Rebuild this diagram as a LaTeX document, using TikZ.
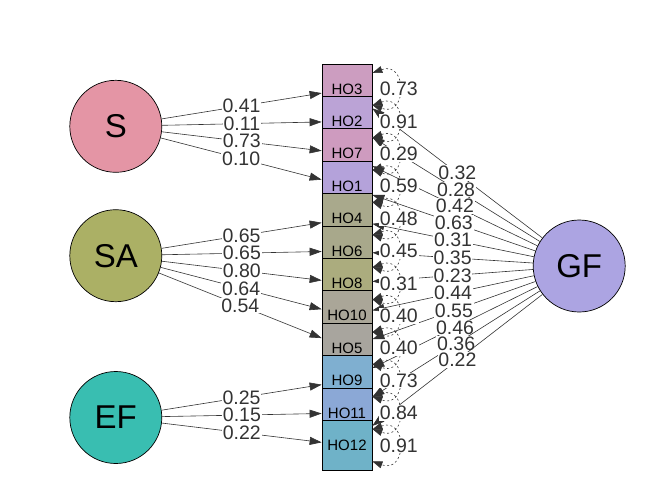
\documentclass[tikz,border=0pt]{standalone}
\usepackage{fontspec}
\setmainfont{Liberation Sans}
\usetikzlibrary{arrows.meta}
\definecolor{edgecol}{HTML}{333333}
\definecolor{scol}{HTML}{E495A5}
\definecolor{sacol}{HTML}{ABB065}
\definecolor{efcol}{HTML}{39BEB1}
\definecolor{gfcol}{HTML}{ACA4E2}
\definecolor{hoa}{HTML}{CC9DC0}
\definecolor{hob}{HTML}{BBA3D6}
\definecolor{hoc}{HTML}{CE9BBF}
\definecolor{hod}{HTML}{B4A2DA}
\definecolor{hoe}{HTML}{A9A98C}
\definecolor{hof}{HTML}{A8A88B}
\definecolor{hog}{HTML}{ABAC7E}
\definecolor{hoh}{HTML}{AAA698}
\definecolor{hoi}{HTML}{A8A59E}
\definecolor{hoj}{HTML}{7FAFD0}
\definecolor{hok}{HTML}{8BA8D6}
\definecolor{hol}{HTML}{6FB2C8}
\tikzset{
  latent/.style={circle, draw=black, line width=0.7pt, minimum size=92pt, inner sep=0pt,
    font=\fontsize{33}{36}\selectfont},
  manifest/.style={rectangle, draw=black, line width=0.7pt, minimum width=50pt,
    minimum height=50pt, inner sep=0pt, font=\fontsize{15}{18}\selectfont},
  loading/.style={draw=edgecol, line width=0.6pt, -{Triangle[length=12pt,width=8pt]}},
  resid/.style={draw=edgecol, line width=0.6pt, dash pattern=on 2pt off 2.5pt,
    {Triangle[length=10pt,width=7pt]}-{Triangle[length=10pt,width=7pt]}},
  elab/.style={fill=white, inner sep=0.8pt, text=edgecol, font=\fontsize{19.5}{22}\selectfont}
}
\begin{document}
\begin{tikzpicture}[x=1pt,y=-1pt]
  \useasboundingbox (0,0) rectangle (672,480);
  \draw
    (347,89.0) node[manifest, fill=hoa] (HO3){HO3}
    (347,121.4) node[manifest, fill=hob] (HO2){HO2}
    (347,153.8) node[manifest, fill=hoc] (HO7){HO7}
    (347,186.2) node[manifest, fill=hod] (HO1){HO1}
    (347,218.6) node[manifest, fill=hoe] (HO4){HO4}
    (347,251.0) node[manifest, fill=hof] (HO6){HO6}
    (347,283.4) node[manifest, fill=hog] (HO8){HO8}
    (347,315.8) node[manifest, fill=hoh] (HO10){HO10}
    (347,348.2) node[manifest, fill=hoi] (HO5){HO5}
    (347,380.6) node[manifest, fill=hoj] (HO9){HO9}
    (347,413.0) node[manifest, fill=hok] (HO11){HO11}
    (347,445.4) node[manifest, fill=hol] (HO12){HO12};
  \draw
    (115.8,126.3) node[latent, fill=scol] (S){S}
    (115.8,255.7) node[latent, fill=sacol] (SA){SA}
    (115.8,417.5) node[latent, fill=efcol] (EF){EF}
    (579.2,266.0) node[latent, fill=gfcol] (GF){GF};
  % group factors
  \begin{scope}[every node/.style={elab}]
    \draw[loading] (S) to node{0.41} (HO3);
    \draw[loading] (S) to node{0.11} (HO2);
    \draw[loading] (S) to node{0.73} (HO7);
    \draw[loading] (S) to node{0.10} (HO1);
    \draw[loading] (SA) to node{0.65} (HO4);
    \draw[loading] (SA) to node{0.65} (HO6);
    \draw[loading] (SA) to node{0.80} (HO8);
    \draw[loading] (SA) to node{0.64} (HO10);
    \draw[loading] (SA) to node{0.54} (HO5);
    \draw[loading] (EF) to node{0.25} (HO9);
    \draw[loading] (EF) to node{0.15} (HO11);
    \draw[loading] (EF) to node{0.22} (HO12);
  \end{scope}
  % general factor
  \begin{scope}[every node/.style={elab}]
    \draw[loading] (GF) to node{0.32} (HO3);
    \draw[loading] (GF) to node{0.28} (HO2);
    \draw[loading] (GF) to node{0.42} (HO7);
    \draw[loading] (GF) to node{0.63} (HO1);
    \draw[loading] (GF) to node{0.31} (HO4);
    \draw[loading] (GF) to node{0.35} (HO6);
    \draw[loading] (GF) to node{0.23} (HO8);
    \draw[loading] (GF) to node{0.44} (HO10);
    \draw[loading] (GF) to node{0.55} (HO5);
    \draw[loading] (GF) to node{0.46} (HO9);
    \draw[loading] (GF) to node{0.36} (HO11);
    \draw[loading] (GF) to node{0.22} (HO12);
  \end{scope}
  % residuals
  \begin{scope}[every node/.style={elab}, every to/.style={out=20, in=-20, looseness=3}]
    \draw[resid] ([yshift=16pt]HO3.east) to node{0.73} ([yshift=-16pt]HO3.east);
    \draw[resid] ([yshift=16pt]HO2.east) to node{0.91} ([yshift=-16pt]HO2.east);
    \draw[resid] ([yshift=16pt]HO7.east) to node{0.29} ([yshift=-16pt]HO7.east);
    \draw[resid] ([yshift=16pt]HO1.east) to node{0.59} ([yshift=-16pt]HO1.east);
    \draw[resid] ([yshift=16pt]HO4.east) to node{0.48} ([yshift=-16pt]HO4.east);
    \draw[resid] ([yshift=16pt]HO6.east) to node{0.45} ([yshift=-16pt]HO6.east);
    \draw[resid] ([yshift=16pt]HO8.east) to node{0.31} ([yshift=-16pt]HO8.east);
    \draw[resid] ([yshift=16pt]HO10.east) to node{0.40} ([yshift=-16pt]HO10.east);
    \draw[resid] ([yshift=16pt]HO5.east) to node{0.40} ([yshift=-16pt]HO5.east);
    \draw[resid] ([yshift=16pt]HO9.east) to node{0.73} ([yshift=-16pt]HO9.east);
    \draw[resid] ([yshift=16pt]HO11.east) to node{0.84} ([yshift=-16pt]HO11.east);
    \draw[resid] ([yshift=16pt]HO12.east) to node{0.91} ([yshift=-16pt]HO12.east);
  \end{scope}
\end{tikzpicture}
\end{document}
